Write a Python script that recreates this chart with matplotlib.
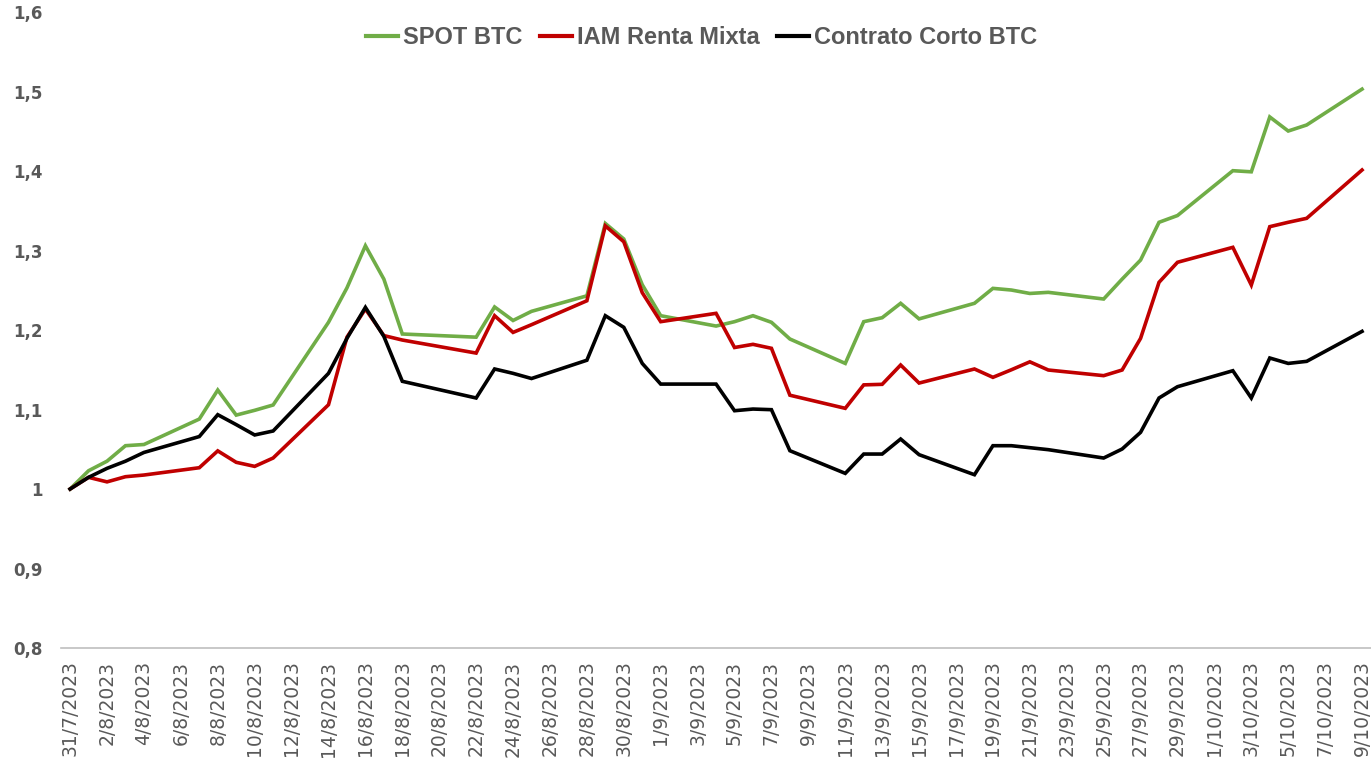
import matplotlib
matplotlib.use("Agg")
import matplotlib.pyplot as plt
import matplotlib.dates as mdates
from matplotlib import font_manager as fm
import pandas as pd

dates = ["2023-07-31",
         "2023-08-01", "2023-08-02", "2023-08-03", "2023-08-04",
         "2023-08-07", "2023-08-08", "2023-08-09", "2023-08-10", "2023-08-11",
         "2023-08-14", "2023-08-15", "2023-08-16", "2023-08-17", "2023-08-18",
         "2023-08-22", "2023-08-23", "2023-08-24", "2023-08-25",
         "2023-08-28", "2023-08-29", "2023-08-30", "2023-08-31", "2023-09-01",
         "2023-09-04", "2023-09-05", "2023-09-06", "2023-09-07", "2023-09-08",
         "2023-09-11", "2023-09-12", "2023-09-13", "2023-09-14", "2023-09-15",
         "2023-09-18", "2023-09-19", "2023-09-20", "2023-09-21", "2023-09-22",
         "2023-09-25", "2023-09-26", "2023-09-27", "2023-09-28", "2023-09-29",
         "2023-10-02", "2023-10-03", "2023-10-04", "2023-10-05", "2023-10-06",
         "2023-10-09"]

spot_btc = [1.000,
            1.023, 1.035, 1.0545, 1.056,
            1.088, 1.1245, 1.093, 1.099, 1.1057,
            1.2097, 1.253, 1.306, 1.264, 1.195,
            1.191, 1.229, 1.212, 1.2235,
            1.243, 1.334, 1.3145, 1.257, 1.218,
            1.205, 1.2105, 1.218, 1.2097, 1.1887,
            1.158, 1.2105, 1.2155, 1.2336, 1.214,
            1.2336, 1.2524, 1.2503, 1.246, 1.2474,
            1.239, 1.264, 1.288, 1.3355, 1.344,
            1.4004, 1.399, 1.468, 1.4503, 1.4579,
            1.503]

iam_renta_mixta = [1.000,
                   1.0147, 1.009, 1.0155, 1.0176,
                   1.0268, 1.048, 1.0336, 1.0285, 1.039,
                   1.106, 1.191, 1.2264, 1.193, 1.1874,
                   1.171, 1.218, 1.197, 1.2067,
                   1.2368, 1.331, 1.311, 1.247, 1.2105,
                   1.221, 1.178, 1.182, 1.177, 1.118,
                   1.1015, 1.131, 1.1317, 1.156, 1.1333,
                   1.151, 1.1405, 1.150, 1.160, 1.1497,
                   1.1426, 1.1497, 1.1895, 1.26, 1.2852,
                   1.304, 1.2566, 1.330, 1.3355, 1.3405,
                   1.4013]

contrato_corto = [1.000,
                  1.0147, 1.026, 1.035, 1.046,
                  1.066, 1.0935, 1.081, 1.068, 1.073,
                  1.1455, 1.1895, 1.2285, 1.192, 1.1355,
                  1.1145, 1.151, 1.1455, 1.139,
                  1.162, 1.218, 1.2034, 1.158, 1.132,
                  1.132, 1.0985, 1.1006, 1.0998, 1.0482,
                  1.0197, 1.044, 1.044, 1.0629, 1.0432,
                  1.018, 1.0545, 1.0545, 1.052, 1.0495,
                  1.039, 1.0503, 1.0713, 1.1145, 1.1287,
                  1.1488, 1.1145, 1.1648, 1.158, 1.1606,
                  1.1983]

series_names = ["SPOT BTC", "IAM Renta Mixta", "Contrato Corto BTC"]
series_colors = ["#70AD47", "#C00000", "#000000"]

y_ticks = [0.8, 0.9, 1.0, 1.1, 1.2, 1.3, 1.4, 1.5, 1.6]
y_tick_labels = ["0,8", "0,9", "1", "1,1", "1,2", "1,3", "1,4", "1,5", "1,6"]

tick_dates = pd.date_range("2023-07-31", "2023-10-09", freq="2D")


def has_font(name):
    try:
        fm.findfont(fm.FontProperties(family=name, weight="bold"), fallback_to_default=False)
        return True
    except Exception:
        return False


if has_font("Liberation Sans Narrow"):
    legend_family, legend_size = "Liberation Sans Narrow", 20.5
else:
    legend_family, legend_size = "Liberation Sans", 17

text_gray = "#595959"

fig = plt.figure(figsize=(13.71, 7.70), dpi=100)
ax = fig.add_axes([0.0444, 0.1584, 0.9558, 0.8260])

x = mdates.date2num(pd.to_datetime(dates))
for vals, name, col in zip([spot_btc, iam_renta_mixta, contrato_corto], series_names, series_colors):
    ax.plot(x, vals, color=col, lw=2.6, label=name, solid_joinstyle="miter")

x0 = mdates.date2num(pd.Timestamp("2023-07-31"))
x1 = mdates.date2num(pd.Timestamp("2023-10-09"))
ax.set_xlim(x0 - 0.5, x1 + 0.5)
ax.set_ylim(0.8, 1.6)

ax.set_yticks(y_ticks)
ax.set_yticklabels(y_tick_labels, fontsize=12, fontweight="bold", color=text_gray, family="DejaVu Sans")
tx = mdates.date2num(tick_dates)
ax.set_xticks(tx)
ax.set_xticklabels([f"{d.day}/{d.month}/{d.year}" for d in tick_dates], rotation=90,
                   fontsize=13.5, color=text_gray, family="DejaVu Sans", va="top", ha="center")
ax.tick_params(axis="both", length=0)
ax.tick_params(axis="y", pad=13)
ax.tick_params(axis="x", pad=9)

for s in ["left", "right", "top"]:
    ax.spines[s].set_visible(False)
ax.spines["bottom"].set_color("#BFBFBF")
ax.spines["bottom"].set_linewidth(1.2)
ax.patch.set_alpha(0)

leg = fig.legend(loc="center", bbox_to_anchor=(0.5117, 0.951), ncol=3, frameon=False,
                 prop=fm.FontProperties(family=legend_family, weight="bold", size=legend_size),
                 handlelength=1.35, handletextpad=0.2, columnspacing=0.75)
for t in leg.get_texts():
    t.set_color(text_gray)
for h in leg.legend_handles:
    h.set_linewidth(3)

fig.savefig("out.png", dpi=100)
